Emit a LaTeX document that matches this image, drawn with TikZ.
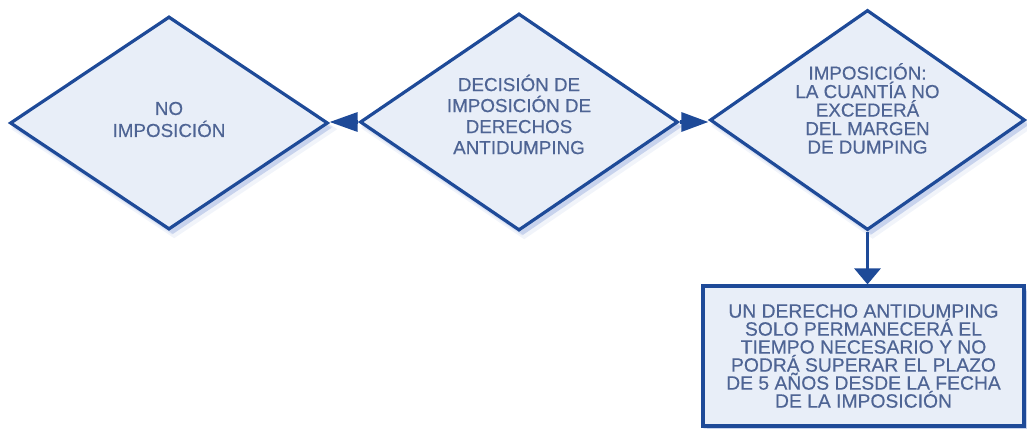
\documentclass[tikz,border=0pt]{standalone}
\usepackage{fontspec}
\setmainfont{Liberation Sans}[FakeBold=0.35]
\usetikzlibrary{shapes.geometric,arrows.meta,shadows,calc}
\definecolor{edgeblue}{RGB}{30,74,152}
\definecolor{fillblue}{RGB}{232,238,248}
\definecolor{textblue}{RGB}{78,100,148}
\definecolor{shadowblue}{RGB}{60,100,190}
\tikzset{
  softshadow/.style={
    drop shadow={shadow xshift=4pt,shadow yshift=-5pt,fill=shadowblue,opacity=.14},
    drop shadow={shadow xshift=3pt,shadow yshift=-4pt,shadow scale=1.015,fill=shadowblue,opacity=.10},
    drop shadow={shadow xshift=5pt,shadow yshift=-6pt,shadow scale=1.03,fill=shadowblue,opacity=.07}},
  dia/.style={diamond,draw=edgeblue,fill=fillblue,line width=3.2pt,inner sep=0pt,
    minimum width=#1,softshadow},
  stepbox/.style={rectangle,draw=edgeblue,fill=fillblue,line width=3.2pt,inner sep=0pt,
    minimum width=321pt,minimum height=140pt,softshadow},
  txt/.style={align=center,text=textblue,inner sep=0pt},
  conn/.style={draw=edgeblue,line width=3.2pt},
}
\begin{document}
\begin{tikzpicture}[x=1pt,y=-1pt]
\useasboundingbox (0,0) rectangle (1027,428);
\node[dia=318pt,minimum height=213pt] (d1) at (169,123) {};
\node[dia=318pt,minimum height=217pt] (d2) at (519,122) {};
\node[dia=315pt,minimum height=220pt] (d3) at (867.5,120) {};
\node[stepbox] (b) at (863.5,356) {};
\node[txt,font=\fontsize{18.8}{22}\selectfont] (t1) at (169,119.5) {NO\\IMPOSICIÓN};
\node[txt,font=\fontsize{18.8}{21}\selectfont] (t2) at (519,114.5) {DECISIÓN DE\\IMPOSICIÓN DE\\DERECHOS\\ANTIDUMPING};
\node[txt,font=\fontsize{18.8}{18.5}\selectfont] (t3) at (867.5,108.5) {IMPOSICIÓN:\\LA CUANTÍA NO\\EXCEDERÁ\\DEL MARGEN\\DE DUMPING};
\node[txt,font=\fontsize{19.3}{18}\selectfont] (t4) at (b) {UN DERECHO ANTIDUMPING\\SOLO PERMANECERÁ EL\\TIEMPO NECESARIO Y NO\\PODRÁ SUPERAR EL PLAZO\\DE 5 AÑOS DESDE LA FECHA\\DE LA IMPOSICIÓN};
\draw[conn,-{Triangle[length=28pt,width=19pt]}] (d2.west) -- (d2.west -| d1.east);
\draw[conn,-{Triangle[length=27pt,width=19pt]}] (d2.east) -- (d2.east -| d3.west);
\draw[conn,-{Triangle[length=16pt,width=26pt]}] (d3.south) -- (d3.south |- b.north);
\end{tikzpicture}
\end{document}
